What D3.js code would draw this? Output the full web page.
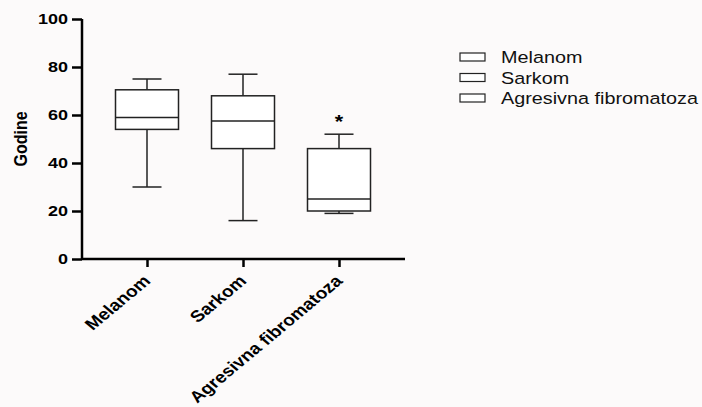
<!DOCTYPE html>
<html><head><meta charset="utf-8">
<script src="https://cdn.jsdelivr.net/npm/d3@7"></script>
<style>body{margin:0;background:#fcfafa;}svg{display:block;}</style>
</head><body>
<svg id="c" width="702" height="407"></svg>
<script>
const categories = ["Melanom", "Sarkom", "Agresivna fibromatoza"];
const whiskerLow = [30, 16, 19];
const q1 = [54, 46, 20];
const median = [59, 57.5, 25];
const q3 = [70.5, 68, 46];
const whiskerHigh = [75, 77, 52];
const markers = ["", "", "*"];
const markerValue = [null, null, 60];
const yTicks = [0, 20, 40, 60, 80, 100];
const yLabel = "Godine";

(function(){
const svg = d3.select("#c");
const mLeft = 82, mRight = 405, mTop = 19, mBottom = 259;
const sx = 1.2; // horizontal stretch of text in the reference
const y = d3.scaleLinear().domain([0, 100]).range([mBottom, mTop]);
const x = d3.scalePoint().domain(categories).range([147, 339]);
const font = "Arial, 'Liberation Sans', sans-serif";

// Y axis
const ya = svg.append("g").attr("transform", `translate(${mLeft},0)`)
  .call(d3.axisLeft(y).tickValues(yTicks).tickSize(10).tickPadding(4));
ya.select(".domain").attr("stroke", "#000").attr("stroke-width", 2.5).attr("d", `M0,${mTop}V${mBottom}`);
ya.selectAll(".tick line").attr("stroke", "#000").attr("stroke-width", 2.5);
ya.selectAll(".tick text").attr("font-family", font).attr("font-weight", "bold").attr("font-size", 15).attr("fill", "#000")
  .attr("x", -14 / sx).attr("transform", `scale(${sx},1)`);

// X axis
const xa = svg.append("g").attr("transform", `translate(0,${mBottom})`)
  .call(d3.axisBottom(x).tickSize(8).tickPadding(4));
xa.select(".domain").attr("stroke", "#000").attr("stroke-width", 2.5).attr("d", `M${mLeft},0H${mRight}`);
xa.selectAll(".tick line").attr("stroke", "#000").attr("stroke-width", 2.5);
xa.selectAll(".tick text").attr("font-family", font).attr("font-weight", "bold").attr("font-size", 16).attr("fill", "#000")
  .attr("text-anchor", "end").attr("dy", 0).attr("y", 0)
  .attr("transform", `translate(4,23) scale(${sx},1) rotate(-45)`);

// Y label
svg.append("text").attr("transform", `translate(27,${(mTop+mBottom)/2}) scale(${sx},1) rotate(-90)`)
  .attr("text-anchor", "middle").attr("font-family", font).attr("font-weight", "bold").attr("font-size", 16).text(yLabel);

// Boxes
const boxW = 63, capW = 29;
const g = svg.append("g");
categories.forEach((c, i) => {
  const cx = x(c);
  const s = g.append("g").attr("stroke", "#222").attr("stroke-width", 1.5).attr("fill", "none");
  s.append("line").attr("x1", cx).attr("x2", cx).attr("y1", y(whiskerHigh[i])).attr("y2", y(q3[i]));
  s.append("line").attr("x1", cx).attr("x2", cx).attr("y1", y(q1[i])).attr("y2", y(whiskerLow[i]));
  s.append("line").attr("x1", cx - capW/2).attr("x2", cx + capW/2).attr("y1", y(whiskerHigh[i])).attr("y2", y(whiskerHigh[i]));
  s.append("line").attr("x1", cx - capW/2).attr("x2", cx + capW/2).attr("y1", y(whiskerLow[i])).attr("y2", y(whiskerLow[i]));
  s.append("rect").attr("x", cx - boxW/2).attr("width", boxW).attr("y", y(q3[i])).attr("height", y(q1[i]) - y(q3[i])).attr("fill", "#fff");
  s.append("line").attr("x1", cx - boxW/2).attr("x2", cx + boxW/2).attr("y1", y(median[i])).attr("y2", y(median[i]));
  if (markers[i]) {
    svg.append("text").attr("transform", `translate(${cx},${y(markerValue[i]) + 13}) scale(${sx},1)`).attr("text-anchor", "middle")
      .attr("font-family", font).attr("font-weight", "bold").attr("font-size", 18).text(markers[i]);
  }
});

// Legend
const lg = svg.append("g");
categories.forEach((c, i) => {
  const yy = 57 + i * 20.5;
  lg.append("rect").attr("x", 460).attr("y", yy - 4).attr("width", 25).attr("height", 8)
    .attr("fill", "#fff").attr("stroke", "#222").attr("stroke-width", 1.2);
  lg.append("text").attr("transform", `translate(501,${yy + 6}) scale(${sx},1)`)
    .attr("font-family", font).attr("font-size", 16.5).attr("fill", "#111").text(c);
});
})();
</script>
</body></html>
